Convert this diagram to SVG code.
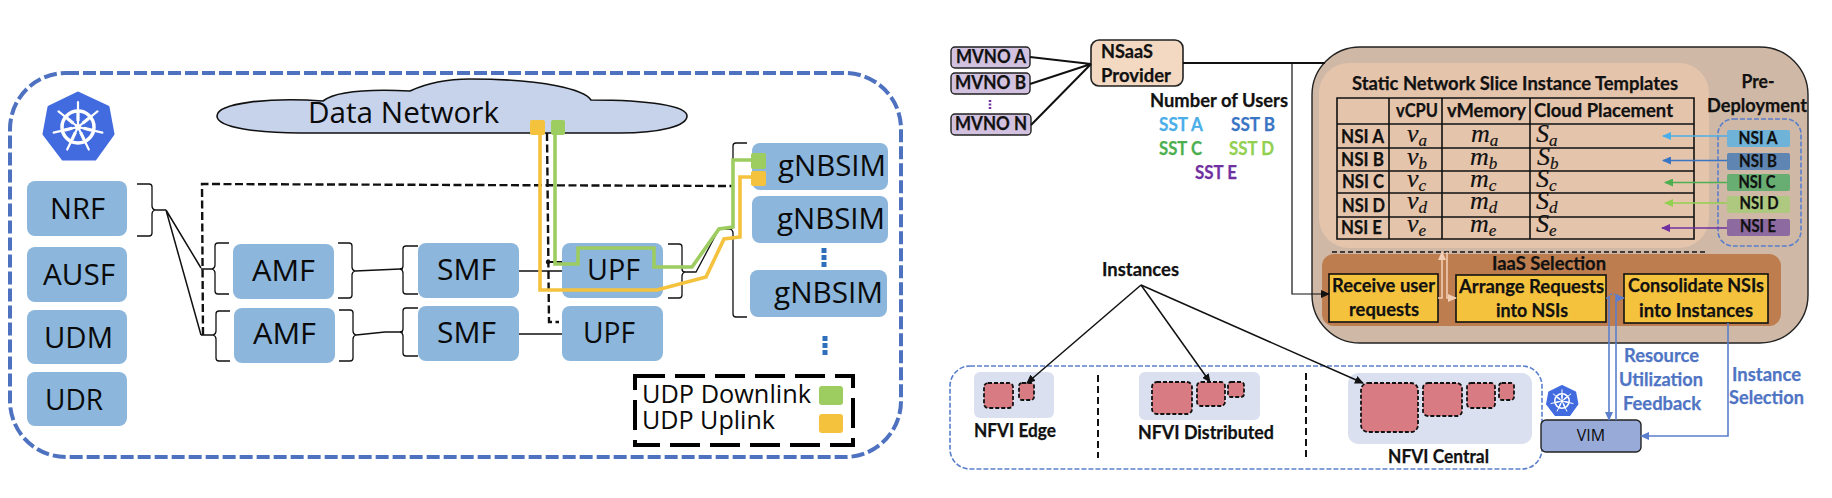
<svg xmlns="http://www.w3.org/2000/svg" xmlns:xlink="http://www.w3.org/1999/xlink" width="1832" height="498" viewBox="0 0 1832 498">
<style>
text{font-family:"Lato","Open Sans",sans-serif;font-weight:700;fill:#111;stroke:#111;stroke-width:.25;font-size:19px}
.os{font-family:"Open Sans","Noto Sans",sans-serif;font-weight:400;font-size:30px;fill:#0a0a0a;stroke:none}
.c{text-anchor:middle}
.n{fill:#8cb6db}
.thin{fill:none;stroke:#111;stroke-width:1.3}
.conn{fill:none;stroke:#111;stroke-width:1.5}
.dash{fill:none;stroke:#111;stroke-width:2.4;stroke-dasharray:8 3.5}
.g{fill:none;stroke:#9dcc60;stroke-width:3.6}
.y{fill:none;stroke:#f5c23e;stroke-width:3.6}
.gf{fill:#9dcc60}.yf{fill:#f5c23e}
.red{fill:#d97b83;stroke:#111;stroke-width:1.8;stroke-dasharray:4 2}
.bg{fill:#dae0f0}
.blue{fill:#4f74c4;stroke:#4f74c4}
.bl{fill:none;stroke:#5b7fcc;stroke-width:1.6}
.tb{fill:none;stroke:#111;stroke-width:1.6}
.m{font-family:"Liberation Serif",serif;font-style:italic;font-weight:400;font-size:26px;stroke-width:.2}
.m tspan{font-size:17px}
.ns{font-size:16.5px}
.yb{fill:#f5c23e;stroke:#111;stroke-width:1.6}
.p{fill:#d2c2e0;stroke:#222;stroke-width:1.4}
</style>
<defs>
<marker id="ak" markerWidth="9" markerHeight="8" refX="8" refY="4" orient="auto" markerUnits="userSpaceOnUse"><path d="M0,0L9,4L0,8z" fill="#111"/></marker>
<marker id="aA" markerWidth="9" markerHeight="8" refX="8" refY="4" orient="auto" markerUnits="userSpaceOnUse"><path d="M0,0L9,4L0,8z" fill="#4aaee8"/></marker>
<marker id="aB" markerWidth="9" markerHeight="8" refX="8" refY="4" orient="auto" markerUnits="userSpaceOnUse"><path d="M0,0L9,4L0,8z" fill="#3a75c4"/></marker>
<marker id="aC" markerWidth="9" markerHeight="8" refX="8" refY="4" orient="auto" markerUnits="userSpaceOnUse"><path d="M0,0L9,4L0,8z" fill="#4caf50"/></marker>
<marker id="aD" markerWidth="9" markerHeight="8" refX="8" refY="4" orient="auto" markerUnits="userSpaceOnUse"><path d="M0,0L9,4L0,8z" fill="#92d050"/></marker>
<marker id="aE" markerWidth="9" markerHeight="8" refX="8" refY="4" orient="auto" markerUnits="userSpaceOnUse"><path d="M0,0L9,4L0,8z" fill="#7030a0"/></marker>
<marker id="aL" markerWidth="9" markerHeight="8" refX="8" refY="4" orient="auto" markerUnits="userSpaceOnUse"><path d="M0,0L9,4L0,8z" fill="#f0cdb3"/></marker>
<marker id="aV" markerWidth="9" markerHeight="8" refX="8" refY="4" orient="auto" markerUnits="userSpaceOnUse"><path d="M0,0L9,4L0,8z" fill="#5b7fcc"/></marker>
<g id="k8s">
<path d="M0,-34L30,-20L35,7L17,32L-15,32L-34,7L-29,-20z" fill="#416bdf" stroke="#416bdf" stroke-width="3" stroke-linejoin="round"/>
<g fill="none" stroke="#fff">
<circle r="16" stroke-width="3.5"/>
<path stroke-width="2.2" stroke-linecap="round" d="M0,0L0,-25M0,0L19.5,-15.6M0,0L24.4,5.6M0,0L10.8,22.5M0,0L-10.8,22.5M0,0L-24.4,5.6M0,0L-19.5,-15.6"/>
<path stroke-width="3.2" d="M0,-6L0,-14M4.7,-3.7L10.9,-8.7M5.9,1.3L13.6,3.1M2.6,5.4L6,12.6M-2.6,5.4L-6,12.6M-5.9,1.3L-13.6,3.1M-4.7,-3.7L-10.9,-8.7"/>
</g>
<circle r="3" fill="#fff"/>
</g>
</defs>

<rect id="cluster" x="10" y="73" width="891" height="384" rx="56" fill="none" stroke="#4f72c0" stroke-width="4" stroke-dasharray="13 4"/>
<use id="k8s-logo" xlink:href="#k8s" href="#k8s" x="78" y="127"/>

<g id="data-network">
<path d="M323,101C270,97 217,103 217,116C217,128 260,133 300,133L620,133C660,133 687,126 687,116C687,106 650,100 591,100C585,90 545,79 470,79C445,79 425,84 410,91C390,90 340,88 323,101z" fill="#c6d3ea" stroke="#111" stroke-width="1.6"/>
<text class="os" x="308" y="123" textLength="191" lengthAdjust="spacingAndGlyphs">Data Network</text>
</g>

<g id="connectors-left">
<path class="thin" d="M137,184H149Q152,184 152,187V206Q152,209 155,210H166M155,210Q152,211 152,214V233Q152,236 149,236H137"/>
<path class="conn" d="M166,210L201,268M166,210L201,335"/>
<path class="thin" d="M229,243H218Q215,243 215,246V265Q215,268 212,269H201M212,269Q215,270 215,273V291Q215,294 218,294H229"/>
<path class="thin" d="M230,311H219Q216,311 216,314V331Q216,334 213,335H201M213,335Q216,336 216,339V358Q216,361 219,361H230"/>
<path class="thin" d="M338,243H349Q352,243 352,246V267Q352,270 355,271M355,271Q352,272 352,275V295Q352,298 349,298H338"/>
<path class="thin" d="M339,310H350Q353,310 353,313V331Q353,334 356,335M356,335Q353,336 353,339V358Q353,361 350,361H339"/>
<path class="thin" d="M355,271L400,269H403M356,335L385,332H403"/>
<path class="thin" d="M418,246H406Q403,246 403,249V266Q403,269 400,269M400,269Q403,270 403,273V291Q403,294 406,294H418"/>
<path class="thin" d="M418,308H406Q403,308 403,311V329Q403,332 400,332M400,332Q403,333 403,336V353Q403,356 406,356H418"/>
<path class="thin" d="M519,271H562M519,334H562"/>
<path class="thin" d="M668,244H679Q682,244 682,247V269Q682,272 685,272H696L719,229H730M685,272Q682,273 682,276V295Q682,298 679,298H668"/>
<path class="thin" d="M747,143H736Q733,143 733,146V226Q733,229 730,229M730,229Q733,230 733,233V314Q733,317 736,317H747"/>
<path class="dash" d="M203,335L202,184L733,186"/>
<path class="dash" d="M547,133L549,322H559"/>
<path d="M548,262H562" fill="none" stroke="#111" stroke-width="2"/>
<circle cx="548" cy="262" r="2.2" fill="#111"/>
</g>

<g id="nrf"><rect class="n" x="27" y="181" width="100" height="55" rx="8"/><text class="os" x="50" y="219" textLength="55" lengthAdjust="spacingAndGlyphs">NRF</text></g>
<g id="ausf"><rect class="n" x="27" y="247" width="100" height="55" rx="8"/><text class="os" x="43" y="285" textLength="72" lengthAdjust="spacingAndGlyphs">AUSF</text></g>
<g id="udm"><rect class="n" x="27" y="310" width="100" height="54" rx="8"/><text class="os" x="44" y="348" textLength="69" lengthAdjust="spacingAndGlyphs">UDM</text></g>
<g id="udr"><rect class="n" x="27" y="372" width="100" height="54" rx="8"/><text class="os" x="45" y="410" textLength="58" lengthAdjust="spacingAndGlyphs">UDR</text></g>
<g id="amf1"><rect class="n" x="233" y="244" width="101" height="55" rx="8"/><text class="os" x="252" y="281" textLength="63" lengthAdjust="spacingAndGlyphs">AMF</text></g>
<g id="amf2"><rect class="n" x="234" y="308" width="101" height="55" rx="8"/><text class="os" x="253" y="344" textLength="63" lengthAdjust="spacingAndGlyphs">AMF</text></g>
<g id="smf1"><rect class="n" x="418" y="243" width="101" height="55" rx="8"/><text class="os" x="437" y="280" textLength="59" lengthAdjust="spacingAndGlyphs">SMF</text></g>
<g id="smf2"><rect class="n" x="418" y="306" width="101" height="55" rx="8"/><text class="os" x="437" y="343" textLength="59" lengthAdjust="spacingAndGlyphs">SMF</text></g>
<g id="upf1"><rect class="n" x="562" y="243" width="101" height="55" rx="8"/><text class="os" x="587" y="280" textLength="53" lengthAdjust="spacingAndGlyphs">UPF</text></g>
<g id="upf2"><rect class="n" x="562" y="306" width="101" height="55" rx="8"/><text class="os" x="583" y="343" textLength="52" lengthAdjust="spacingAndGlyphs">UPF</text></g>
<g id="gnbsim1"><rect class="n" x="752" y="143" width="136" height="47" rx="8"/><text class="os" x="778" y="176" textLength="108" lengthAdjust="spacingAndGlyphs">gNBSIM</text></g>
<g id="gnbsim2"><rect class="n" x="752" y="196" width="136" height="47" rx="8"/><text class="os" x="777" y="229" textLength="108" lengthAdjust="spacingAndGlyphs">gNBSIM</text></g>
<g id="gnbsim3"><rect class="n" x="750" y="270" width="137" height="47" rx="8"/><text class="os" x="774" y="303" textLength="109" lengthAdjust="spacingAndGlyphs">gNBSIM</text></g>
<path id="dots-gnb" d="M824,248V267M825,336V355" fill="none" stroke="#2f6fbb" stroke-width="5" stroke-dasharray="5 2"/>

<g id="udp-paths">
<path class="g" d="M555,133V264H578V248H654V267H692L719,229L733,227V160H752"/>
<path class="y" d="M540,133V290H657L706,277L724,239L740,237V177H752"/>
<rect class="yf" x="530" y="120" width="15" height="15" rx="2"/>
<rect class="gf" x="551" y="120" width="14" height="15" rx="2"/>
<rect class="gf" x="751" y="153" width="15" height="16" rx="2"/>
<rect class="yf" x="751" y="171" width="15" height="15" rx="2"/>
</g>

<g id="legend">
<rect x="635" y="376" width="218" height="69" fill="none" stroke="#000" stroke-width="4" stroke-dasharray="30 10"/>
<text class="os" x="642" y="403" textLength="169" lengthAdjust="spacingAndGlyphs" style="font-size:25px">UDP Downlink</text>
<text class="os" x="642" y="429" textLength="133" lengthAdjust="spacingAndGlyphs" style="font-size:25px">UDP Uplink</text>
<rect class="gf" x="819" y="386" width="24" height="19" rx="3"/>
<rect class="yf" x="819" y="414" width="24" height="19" rx="3"/>
</g>

<g id="mvno-a"><rect class="p" x="951" y="47" width="79" height="21" rx="4"/><text x="956" y="63" textLength="70" lengthAdjust="spacingAndGlyphs">MVNO A</text></g>
<g id="mvno-b"><rect class="p" x="951" y="73" width="79" height="21" rx="4"/><text x="955" y="89" textLength="71" lengthAdjust="spacingAndGlyphs">MVNO B</text></g>
<path id="dots-mvno" d="M990,100V109" fill="none" stroke="#7030a0" stroke-width="2.5" stroke-dasharray="2 1.5"/>
<g id="mvno-n"><rect class="p" x="951" y="114" width="80" height="21" rx="4"/><text x="955" y="130" textLength="72" lengthAdjust="spacingAndGlyphs">MVNO N</text></g>
<g id="nsaas"><rect x="1091" y="40" width="92" height="46" rx="8" fill="#f4d9c2" stroke="#222" stroke-width="1.6"/><text x="1101" y="58" textLength="52" lengthAdjust="spacingAndGlyphs">NSaaS</text><text x="1101" y="82" textLength="70" lengthAdjust="spacingAndGlyphs">Provider</text></g>

<g id="users">
<text x="1150" y="107" textLength="138" lengthAdjust="spacingAndGlyphs">Number of Users</text>
<text x="1159" y="131" textLength="44" lengthAdjust="spacingAndGlyphs" style="fill:#4aaee8;stroke:#4aaee8">SST A</text>
<text x="1231" y="131" textLength="44" lengthAdjust="spacingAndGlyphs" style="fill:#3a75c4;stroke:#3a75c4">SST B</text>
<text x="1159" y="155" textLength="43" lengthAdjust="spacingAndGlyphs" style="fill:#4caf50;stroke:#4caf50">SST C</text>
<text x="1229" y="155" textLength="45" lengthAdjust="spacingAndGlyphs" style="fill:#92d050;stroke:#92d050">SST D</text>
<text x="1195" y="179" textLength="42" lengthAdjust="spacingAndGlyphs" style="fill:#7030a0;stroke:#7030a0">SST E</text>
</g>

<g id="orchestrator">
<rect x="1312" y="47" width="496" height="296" rx="48" fill="#cfb9a6" stroke="#222" stroke-width="1.4"/>
<rect x="1319" y="63" width="390" height="185" rx="30" fill="#e5c4ac"/>
<text class="c" x="1515" y="90" textLength="326" lengthAdjust="spacingAndGlyphs">Static Network Slice Instance Templates</text>
<path d="M1337,98H1694V239H1337zM1337,124H1694M1337,148H1694M1337,171H1694M1337,193H1694M1337,217H1694M1389,98V239M1442,98V239M1530,98V239" class="tb"/>
<text x="1396" y="117" textLength="42" lengthAdjust="spacingAndGlyphs">vCPU</text>
<text x="1447" y="117" textLength="79" lengthAdjust="spacingAndGlyphs">vMemory</text>
<text x="1534" y="117" textLength="139" lengthAdjust="spacingAndGlyphs">Cloud Placement</text>
<text x="1341" y="143" textLength="43" lengthAdjust="spacingAndGlyphs">NSI A</text>
<text x="1341" y="166" textLength="43" lengthAdjust="spacingAndGlyphs">NSI B</text>
<text x="1342" y="188" textLength="42" lengthAdjust="spacingAndGlyphs">NSI C</text>
<text x="1342" y="212" textLength="43" lengthAdjust="spacingAndGlyphs">NSI D</text>
<text x="1341" y="234" textLength="41" lengthAdjust="spacingAndGlyphs">NSI E</text>
<text class="m" x="1407" y="142">v<tspan dy="4">a</tspan></text>
<text class="m" x="1407" y="165">v<tspan dy="4">b</tspan></text>
<text class="m" x="1407" y="187">v<tspan dy="4">c</tspan></text>
<text class="m" x="1407" y="209">v<tspan dy="4">d</tspan></text>
<text class="m" x="1407" y="232">v<tspan dy="4">e</tspan></text>
<text class="m" x="1471" y="142">m<tspan dy="4">a</tspan></text>
<text class="m" x="1470" y="165">m<tspan dy="4">b</tspan></text>
<text class="m" x="1470" y="187">m<tspan dy="4">c</tspan></text>
<text class="m" x="1470" y="209">m<tspan dy="4">d</tspan></text>
<text class="m" x="1470" y="232">m<tspan dy="4">e</tspan></text>
<text class="m" x="1536" y="142">S<tspan dy="4">a</tspan></text>
<text class="m" x="1537" y="165">S<tspan dy="4">b</tspan></text>
<text class="m" x="1536" y="187">S<tspan dy="4">c</tspan></text>
<text class="m" x="1536" y="209">S<tspan dy="4">d</tspan></text>
<text class="m" x="1536" y="232">S<tspan dy="4">e</tspan></text>
<text class="c" x="1758" y="88" textLength="33" lengthAdjust="spacingAndGlyphs">Pre-</text>
<text class="c" x="1757" y="112" textLength="100" lengthAdjust="spacingAndGlyphs">Deployment</text>
<rect x="1718" y="119" width="83" height="127" rx="15" fill="none" stroke="#5b7fcc" stroke-width="1.6" stroke-dasharray="5 2"/>
<path d="M1332,252H1708" fill="none" stroke="#111" stroke-width="1.6" stroke-dasharray="5 3"/>
<rect x="1322" y="254" width="459" height="72" rx="12" fill="#bd7d4f"/>
<text class="c" x="1549" y="270" textLength="114" lengthAdjust="spacingAndGlyphs">IaaS Selection</text>
</g>

<g id="nsi-a"><rect x="1727" y="130" width="63" height="17" rx="2" fill="#6fb3d8"/><text class="c ns" x="1758" y="144" textLength="39" lengthAdjust="spacingAndGlyphs">NSI A</text></g>
<g id="nsi-b"><rect x="1727" y="153" width="63" height="17" rx="2" fill="#5f86b3"/><text class="c ns" x="1758" y="167" textLength="38" lengthAdjust="spacingAndGlyphs">NSI B</text></g>
<g id="nsi-c"><rect x="1727" y="174" width="63" height="17" rx="2" fill="#68ad72"/><text class="c ns" x="1757" y="188" textLength="37" lengthAdjust="spacingAndGlyphs">NSI C</text></g>
<g id="nsi-d"><rect x="1727" y="196" width="63" height="17" rx="2" fill="#aec87f"/><text class="c ns" x="1759" y="209" textLength="39" lengthAdjust="spacingAndGlyphs">NSI D</text></g>
<g id="nsi-e"><rect x="1727" y="219" width="63" height="17" rx="2" fill="#8d6aa0"/><text class="c ns" x="1758" y="232" textLength="36" lengthAdjust="spacingAndGlyphs">NSI E</text></g>

<g id="receive"><rect class="yb" x="1329" y="274" width="109" height="48"/><text class="c" x="1383.5" y="292" textLength="103" lengthAdjust="spacingAndGlyphs">Receive user</text><text class="c" x="1384" y="316" textLength="70" lengthAdjust="spacingAndGlyphs">requests</text></g>
<g id="arrange"><rect class="yb" x="1456" y="275" width="150" height="47"/><text class="c" x="1531.5" y="293" textLength="145" lengthAdjust="spacingAndGlyphs">Arrange Requests</text><text class="c" x="1532" y="317" textLength="72" lengthAdjust="spacingAndGlyphs">into NSIs</text></g>
<g id="consolidate"><rect class="yb" x="1624" y="274" width="144" height="49"/><text class="c" x="1696" y="292" textLength="136" lengthAdjust="spacingAndGlyphs">Consolidate NSIs</text><text class="c" x="1696" y="317" textLength="114" lengthAdjust="spacingAndGlyphs">into Instances</text></g>

<g id="nfvi">
<rect x="950" y="366" width="592" height="103" rx="20" fill="none" stroke="#5b7fcc" stroke-width="1.6" stroke-dasharray="5 2"/>
<rect class="bg" x="974" y="372" width="80" height="46" rx="6"/>
<rect class="bg" x="1139" y="372" width="121" height="48" rx="6"/>
<rect class="bg" x="1348" y="373" width="184" height="71" rx="10"/>
<rect class="red" x="984" y="383" width="29" height="25" rx="4"/>
<rect class="red" x="1019" y="383" width="15" height="17" rx="3"/>
<rect class="red" x="1152" y="382" width="40" height="32" rx="5"/>
<rect class="red" x="1197" y="382" width="28" height="24" rx="4"/>
<rect class="red" x="1228" y="382" width="16" height="15" rx="3"/>
<rect class="red" x="1361" y="383" width="57" height="49" rx="7"/>
<rect class="red" x="1423" y="383" width="39" height="33" rx="5"/>
<rect class="red" x="1467" y="383" width="28" height="25" rx="4"/>
<rect class="red" x="1499" y="383" width="15" height="17" rx="3"/>
<path d="M1098,375V458M1306,373V457" fill="none" stroke="#111" stroke-width="2" stroke-dasharray="7 4"/>
<text class="c" x="1015" y="437" textLength="82" lengthAdjust="spacingAndGlyphs">NFVI Edge</text>
<text class="c" x="1206" y="439" textLength="136" lengthAdjust="spacingAndGlyphs">NFVI Distributed</text>
<text class="c" x="1438.5" y="463" textLength="101" lengthAdjust="spacingAndGlyphs">NFVI Central</text>
</g>
<text id="instances" class="c" x="1140.5" y="276" textLength="77" lengthAdjust="spacingAndGlyphs">Instances</text>

<g id="vim"><rect x="1541" y="420" width="100" height="32" rx="5" fill="#97aad8" stroke="#222" stroke-width="1.4"/><text class="c os" x="1591" y="441" style="font-size:16px">VIM</text></g>
<use id="k8s-logo-small" xlink:href="#k8s" href="#k8s" transform="translate(1562,401) scale(.45)"/>

<g id="connectors-right">
<path d="M1030,57L1091,64M1030,84L1091,64M1031,125L1091,64" fill="none" stroke="#111" stroke-width="2"/>
<path d="M1183,63H1325" fill="none" stroke="#111" stroke-width="1.8"/>
<path d="M1292,63V294H1329" class="conn" marker-end="url(#ak)" style="stroke-width:1.2"/>
<path d="M1141,285L1027,383" class="conn" marker-end="url(#ak)"/>
<path d="M1141,285L1210,382" class="conn" marker-end="url(#ak)"/>
<path d="M1141,285L1363,383" class="conn" marker-end="url(#ak)"/>
<path d="M1727,136H1663" fill="none" stroke="#4aaee8" stroke-width="1.6" marker-end="url(#aA)"/>
<path d="M1727,160.5H1663" fill="none" stroke="#3a75c4" stroke-width="1.6" marker-end="url(#aB)"/>
<path d="M1727,182.5H1665" fill="none" stroke="#4caf50" stroke-width="1.6" marker-end="url(#aC)"/>
<path d="M1727,203H1665" fill="none" stroke="#92d050" stroke-width="1.6" marker-end="url(#aD)"/>
<path d="M1727,228H1662" fill="none" stroke="#7030a0" stroke-width="1.6" marker-end="url(#aE)"/>
<path d="M1438,298H1442V252" fill="none" stroke="#f0cdb3" stroke-width="1.6" marker-end="url(#aL)"/>
<path d="M1447,252V298H1456" fill="none" stroke="#f0cdb3" stroke-width="1.6" marker-end="url(#aL)"/>
<path d="M1606,298H1609V420" class="bl" marker-end="url(#aV)"/>
<path d="M1609,298Q1609,294 1612.5,294Q1616,294 1616,298" class="bl" stroke-dasharray="2 1.5" style="stroke-dasharray:2 1.5"/>
<path d="M1616,420V298H1624" class="bl" marker-end="url(#aV)"/>
<path d="M1728,323V436H1641" class="bl" marker-end="url(#aV)"/>
</g>

<g id="feedback-labels">
<text class="c blue" x="1661.5" y="362" textLength="75" lengthAdjust="spacingAndGlyphs">Resource</text>
<text class="c blue" x="1661" y="386" textLength="84" lengthAdjust="spacingAndGlyphs">Utilization</text>
<text class="c blue" x="1662" y="410" textLength="78" lengthAdjust="spacingAndGlyphs">Feedback</text>
<text class="c blue" x="1766.5" y="381" textLength="69" lengthAdjust="spacingAndGlyphs">Instance</text>
<text class="c blue" x="1766.5" y="404" textLength="75" lengthAdjust="spacingAndGlyphs">Selection</text>
</g>
</svg>
